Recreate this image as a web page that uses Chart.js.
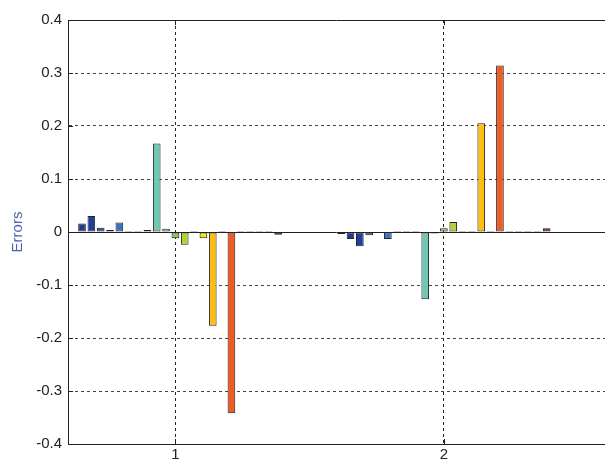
<!DOCTYPE html>
<html>
<head>
<meta charset="utf-8">
<script src="https://cdn.jsdelivr.net/npm/chart.js@4.4.0/dist/chart.umd.min.js"></script>
<style>
  html, body { margin: 0; padding: 0; background: #fff; }
  #caixa { width: 605px; height: 465px; }
</style>
</head>
<body>
<div id="caixa"><canvas id="graficoErros"></canvas></div>
<script>
// categorias do eixo x
const categorias = [1, 2];
// uma serie por barra do grupo (23 barras por categoria)
const series = ["S1", "S2", "S3", "S4", "S5", "S6", "S7", "S8", "S9", "S10", "S11", "S12",
  "S13", "S14", "S15", "S16", "S17", "S18", "S19", "S20", "S21", "S22", "S23"];
const errosCat1 = [0.000, 0.016, 0.030, 0.008, 0.004, 0.018, 0.002, 0.002, 0.004, 0.167, 0.006, -0.012,
  -0.024, 0.002, -0.012, -0.177, 0.002, -0.342, 0.002, 0.002, 0.002, 0.002, -0.005];
const errosCat2 = [-0.004, -0.013, -0.027, -0.006, -0.002, -0.013, 0.002, 0.002, 0.002, -0.127, -0.003, 0.007,
  0.019, 0.002, 0.002, 0.205, 0.002, 0.314, 0.002, 0.002, 0.002, 0.002, 0.007];
const ticksY = [-0.4, -0.3, -0.2, -0.1, 0, 0.1, 0.2, 0.3, 0.4];

function gerarCor(i) {
  const cores = [
    "#1c2a6e", "#223a8c", "#1f3f9b", "#2753ab", "#2c4fa3", "#3b73c2", "#3c8fcf", "#48b3d6",
    "#5ccbd8", "#70c8b3", "#8fd19a", "#8dc85a", "#b3d235", "#d9dc24", "#f5e41a", "#fdbf14",
    "#fb9a1c", "#f05a24", "#e23a1e", "#c82519", "#a81c14", "#8c160f", "#6e0f0f"
  ];
  return cores[i % cores.length];
}

// moldura de cima, linha do zero e ticks para dentro
const molduraPlugin = {
  id: "moldura",
  afterDatasetsDraw(chart) {
    const { ctx, chartArea: a, scales: { x, y } } = chart;
    ctx.save();
    ctx.strokeStyle = "#222";
    ctx.lineWidth = 1;
    ctx.beginPath();
    const y0 = Math.round(y.getPixelForValue(0)) + 0.5;
    ctx.moveTo(a.left, y0);
    ctx.lineTo(a.right, y0);
    ctx.moveTo(a.left, a.top + 0.5);
    ctx.lineTo(a.right, a.top + 0.5);
    ticksY.forEach(v => {
      const py = Math.round(y.getPixelForValue(v)) + 0.5;
      ctx.moveTo(a.left, py);
      ctx.lineTo(a.left + 5, py);
    });
    categorias.forEach(c => {
      const px = Math.round(x.getPixelForValue(c)) + 0.5;
      ctx.moveTo(px, a.bottom);
      ctx.lineTo(px, a.bottom - 5);
      ctx.moveTo(px, a.top);
      ctx.lineTo(px, a.top + 5);
    });
    ctx.stroke();
    ctx.restore();
  }
};

function gerarGrafico() {
  Chart.defaults.font.family = '"Liberation Sans", Arial, sans-serif';
  Chart.defaults.color = "#222";
  const ctx = document.getElementById("graficoErros").getContext("2d");

  new Chart(ctx, {
    type: "bar",
    data: {
      datasets: series.map((nome, i) => ({
        label: nome,
        data: categorias.map((c, j) => ({ x: c, y: j === 0 ? errosCat1[i] : errosCat2[i] })),
        backgroundColor: gerarCor(i),
        borderColor: "#222",
        borderWidth: 1,
        borderSkipped: false
      }))
    },
    options: {
      responsive: true,
      maintainAspectRatio: false,
      animation: false,
      categoryPercentage: 0.8,
      barPercentage: 0.82,
      layout: { padding: { top: 20, right: 0, bottom: 0, left: 0 } },
      plugins: {
        legend: { display: false },
        tooltip: { enabled: false }
      },
      scales: {
        x: {
          type: "linear",
          min: 0.6,
          max: 2.6,
          offset: false,
          afterBuildTicks: s => { s.ticks = categorias.map(v => ({ value: v })); },
          afterFit: s => { s.height = 21; },
          ticks: { autoSkip: false, padding: 2, font: { size: 15 }, callback: v => String(v) },
          grid: { offset: false, drawTicks: false, color: "#222", lineWidth: 1 },
          border: { display: true, color: "#222", width: 1, dash: [3, 3] }
        },
        y: {
          min: -0.4,
          max: 0.4,
          afterBuildTicks: s => { s.ticks = ticksY.map(v => ({ value: v })); },
          afterFit: s => { s.width = 68; },
          ticks: { padding: 6, font: { size: 15 }, callback: v => String(Number(v.toFixed(1))) },
          grid: {
            drawTicks: false,
            lineWidth: 1,
            color: c => (c.tick && (Math.abs(c.tick.value) < 1e-9 || Math.abs(Math.abs(c.tick.value) - 0.4) < 1e-9)) ? "rgba(0,0,0,0)" : "#444"
          },
          border: { display: true, color: "#222", width: 1, dash: [3, 3] },
          title: {
            display: true,
            text: "Errors",
            color: "#4a64b0",
            font: { size: 15 },
            padding: { top: 9, bottom: 0 }
          }
        }
      }
    },
    plugins: [molduraPlugin]
  });
}

gerarGrafico();
</script>
</body>
</html>
